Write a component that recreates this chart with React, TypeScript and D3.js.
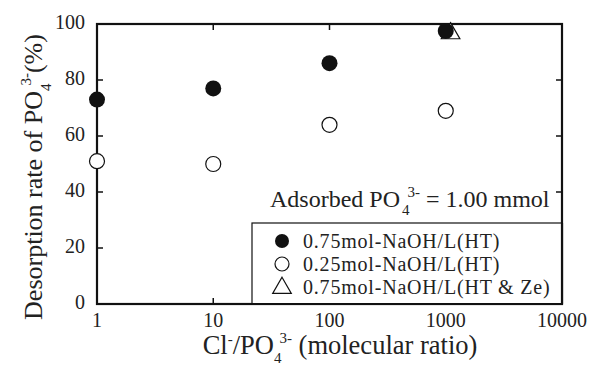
import { useEffect, useRef } from 'react';
import * as d3 from 'd3';

const ratios = [1, 10, 100, 1000];
const naoh075 = [73, 77, 86, 97.5];
const naoh025 = [51, 50, 64, 69];
const zeRatios = [1100];
const zeValues = [97];
const xTicks = [1, 10, 100, 1000, 10000];
const yTicks = [0, 20, 40, 60, 80, 100];
const legendLabels = ['0.75mol-NaOH/L(HT)', '0.25mol-NaOH/L(HT)', '0.75mol-NaOH/L(HT & Ze)'];

const W = 591;
const H = 367;
const FONT = '"Liberation Serif", "Times New Roman", serif';

export default function App() {
    const ref = useRef(null);

    useEffect(() => {
        const svg = d3.select(ref.current);
        svg.selectAll('*').remove();

        const left = 97, right = 562, top = 24, bottom = 304;
        const x = d3.scaleLog().domain([1, 10000]).range([left, right]);
        const y = d3.scaleLinear().domain([0, 100]).range([bottom, top]);

        const g = svg.append('g');

        // frame
        g.append('rect')
            .attr('x', left).attr('y', top)
            .attr('width', right - left).attr('height', bottom - top)
            .attr('fill', 'none').attr('stroke', '#111').attr('stroke-width', 2.2);

        // ticks pointing inwards
        const tl = 6;
        xTicks.slice(1, -1).forEach((t) => {
            g.append('line').attr('x1', x(t)).attr('x2', x(t)).attr('y1', bottom).attr('y2', bottom - tl)
                .attr('stroke', '#111').attr('stroke-width', 1.5);
            g.append('line').attr('x1', x(t)).attr('x2', x(t)).attr('y1', top).attr('y2', top + tl)
                .attr('stroke', '#111').attr('stroke-width', 1.5);
        });
        yTicks.slice(1, -1).forEach((t) => {
            g.append('line').attr('x1', left).attr('x2', left + tl).attr('y1', y(t)).attr('y2', y(t))
                .attr('stroke', '#111').attr('stroke-width', 1.5);
            g.append('line').attr('x1', right).attr('x2', right - tl).attr('y1', y(t)).attr('y2', y(t))
                .attr('stroke', '#111').attr('stroke-width', 1.5);
        });

        // tick labels
        g.selectAll('.xl').data(xTicks).enter().append('text')
            .attr('x', (d) => x(d)).attr('y', bottom + 23)
            .attr('text-anchor', 'middle').attr('font-family', FONT).attr('font-size', 20).attr('fill', '#222')
            .text((d) => d);
        g.selectAll('.yl').data(yTicks).enter().append('text')
            .attr('x', left - 12).attr('y', (d) => y(d) + 5)
            .attr('text-anchor', 'end').attr('font-family', FONT).attr('font-size', 20).attr('fill', '#222')
            .text((d) => d);

        // x title
        const xt = g.append('text').attr('x', 340).attr('y', 354).attr('text-anchor', 'middle')
            .attr('font-family', FONT).attr('font-size', 26.5).attr('fill', '#222');
        xt.append('tspan').text('Cl');
        xt.append('tspan').attr('dy', -10).attr('font-size', 15).text('-');
        xt.append('tspan').attr('dy', 10).text('/PO');
        xt.append('tspan').attr('dy', 9).attr('font-size', 15).text('4');
        xt.append('tspan').attr('dy', -20).attr('dx', -2).attr('font-size', 15).text('3-');
        xt.append('tspan').attr('dy', 11).text(' (molecular ratio)');

        // y title
        const yt = g.append('text').attr('transform', 'translate(42,177) rotate(-90)').attr('text-anchor', 'middle')
            .attr('font-family', FONT).attr('font-size', 26).attr('fill', '#222');
        yt.append('tspan').text('Desorption rate of PO');
        yt.append('tspan').attr('dy', 9).attr('font-size', 15).text('4');
        yt.append('tspan').attr('dy', -20).attr('dx', -2).attr('font-size', 15).text('3-');
        yt.append('tspan').attr('dy', 11).text('(%)');

        // annotation
        const an = g.append('text').attr('x', 270).attr('y', 207)
            .attr('font-family', FONT).attr('font-size', 24).attr('fill', '#222');
        an.append('tspan').text('Adsorbed PO');
        an.append('tspan').attr('dy', 8).attr('dx', 2).attr('font-size', 15).text('4');
        an.append('tspan').attr('dy', -18).attr('dx', -2).attr('font-size', 15).text('3-');
        an.append('tspan').attr('dy', 10).text(' = 1.00 mmol');

        // data
        const tri = d3.symbol().type(d3.symbolTriangle).size(150);
        g.selectAll('.tri').data(zeRatios).enter().append('path')
            .attr('d', tri)
            .attr('transform', (d, i) => `translate(${x(d)},${y(zeValues[i]) + 1})`)
            .attr('fill', 'white').attr('stroke', '#111').attr('stroke-width', 1.2);
        g.selectAll('.open').data(ratios).enter().append('circle')
            .attr('cx', (d) => x(d)).attr('cy', (d, i) => y(naoh025[i])).attr('r', 7.5)
            .attr('fill', 'white').attr('stroke', '#111').attr('stroke-width', 1.2);
        g.selectAll('.fill').data(ratios).enter().append('circle')
            .attr('cx', (d) => x(d)).attr('cy', (d, i) => y(naoh075[i])).attr('r', 8)
            .attr('fill', '#111');

        // legend
        const lx = 252, ly = 223;
        g.append('rect').attr('x', lx).attr('y', ly).attr('width', right - lx).attr('height', bottom - ly)
            .attr('fill', 'white').attr('stroke', '#111').attr('stroke-width', 1.2);
        legendLabels.forEach((lab, i) => {
            const cy = ly + 18 + i * 23;
            if (i === 0) g.append('circle').attr('cx', 282).attr('cy', cy).attr('r', 7).attr('fill', '#111');
            if (i === 1) g.append('circle').attr('cx', 282).attr('cy', cy).attr('r', 7)
                .attr('fill', 'white').attr('stroke', '#111').attr('stroke-width', 1.2);
            if (i === 2) g.append('path').attr('d', tri).attr('transform', `translate(282,${cy + 1})`)
                .attr('fill', 'white').attr('stroke', '#111').attr('stroke-width', 1.2);
            g.append('text').attr('x', 303).attr('y', cy + 7)
                .attr('font-family', FONT).attr('font-size', 20).attr('letter-spacing', 0.8)
                .attr('fill', '#222').text(lab);
        });
        // redraw bottom/right frame over legend
        g.append('line').attr('x1', lx).attr('x2', right).attr('y1', bottom).attr('y2', bottom)
            .attr('stroke', '#111').attr('stroke-width', 2.2);
        g.append('line').attr('x1', right).attr('x2', right).attr('y1', ly).attr('y2', bottom)
            .attr('stroke', '#111').attr('stroke-width', 2.2);
    }, []);

    return (
        <div style={{ position: 'absolute', left: 0, top: 0, background: 'white' }}>
            <svg ref={ref} width={W} height={H} />
        </div>
    );
}
